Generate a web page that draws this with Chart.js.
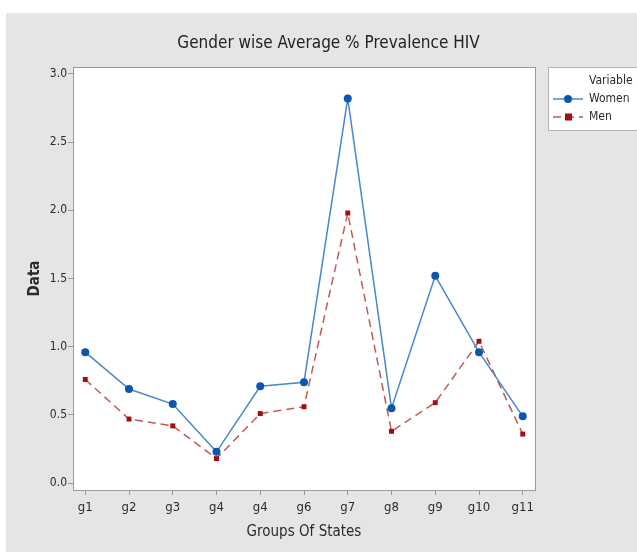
<!DOCTYPE html>
<html>
<head>
<meta charset="utf-8">
<title>Gender wise Average % Prevalence HIV</title>
<script src="https://cdn.jsdelivr.net/npm/chart.js@4.4.0/dist/chart.umd.min.js"></script>
<style>
  html, body { margin: 0; padding: 0; background: #ffffff; }
  #chart { display: block; }
</style>
</head>
<body>
<canvas id="chart" width="637" height="552"></canvas>
<script>
// Groups of states along the x axis (label "g4" appears twice)
const groups = ['g1', 'g2', 'g3', 'g4', 'g4', 'g6', 'g7', 'g8', 'g9', 'g10', 'g11'];

// Average % HIV prevalence per group
const women = [0.96, 0.69, 0.58, 0.23, 0.71, 0.74, 2.82, 0.55, 1.52, 0.96, 0.49];
const men = [0.76, 0.47, 0.42, 0.18, 0.51, 0.56, 1.98, 0.38, 0.59, 1.04, 0.36];

const yTicks = [0, 0.5, 1, 1.5, 2, 2.5, 3];

const FONT = "'Liberation Sans Narrow', 'DejaVu Sans Condensed', 'Liberation Sans', sans-serif";
const TEXT = '#2b2b2b';
const AXIS = '#9a9a9a';

const toPoints = values => values.map((v, i) => ({ x: i, y: v }));

// Gray panel behind everything, white plot area with a thin frame
const panelPlugin = {
  id: 'panel',
  beforeDraw(chart) {
    const { ctx, chartArea: a } = chart;
    ctx.save();
    ctx.fillStyle = '#ffffff';
    ctx.fillRect(0, 0, chart.width, chart.height);
    ctx.fillStyle = '#e5e5e5';
    ctx.fillRect(6, 13, chart.width - 6, chart.height - 13);
    ctx.fillStyle = '#ffffff';
    ctx.fillRect(a.left, a.top, a.right - a.left, a.bottom - a.top);
    ctx.restore();
  },
  afterDraw(chart) {
    const { ctx, chartArea: a } = chart;
    ctx.save();
    ctx.strokeStyle = AXIS;
    ctx.lineWidth = 1;
    ctx.strokeRect(Math.round(a.left) + 0.5, Math.round(a.top) + 0.5,
      Math.round(a.right - a.left), Math.round(a.bottom - a.top));
    ctx.restore();
  }
};

// Legend box on the right, styled after the datasets
const legendBoxPlugin = {
  id: 'legendBox',
  afterDraw(chart) {
    const { ctx } = chart;
    const x = 548, y = 67, w = 100, h = 63;
    ctx.save();
    ctx.fillStyle = '#ffffff';
    ctx.fillRect(x, y, w, h);
    ctx.strokeStyle = '#b4b4b4';
    ctx.strokeRect(x + 0.5, y + 0.5, w, h);

    ctx.fillStyle = TEXT;
    ctx.font = '12px ' + FONT;
    ctx.textBaseline = 'middle';
    ctx.fillText('Variable', 589, 81);

    chart.data.datasets.forEach((ds, i) => {
      const ly = 99 + i * 18;
      ctx.strokeStyle = ds.borderColor;
      ctx.lineWidth = ds.borderWidth;
      ctx.setLineDash(ds.borderDash || []);
      ctx.beginPath();
      ctx.moveTo(553, ly);
      ctx.lineTo(583, ly);
      ctx.stroke();
      ctx.setLineDash([]);
      ctx.fillStyle = ds.pointBackgroundColor;
      if (ds.pointStyle === 'rect') {
        ctx.fillRect(565, ly - 3.5, 7, 7);
      } else {
        ctx.beginPath();
        ctx.arc(568, ly, 4, 0, Math.PI * 2);
        ctx.fill();
      }
      ctx.fillStyle = TEXT;
      ctx.fillText(ds.label, 589, ly);
    });
    ctx.restore();
  }
};

new Chart(document.getElementById('chart'), {
  type: 'line',
  data: {
    datasets: [
      {
        label: 'Women',
        data: toPoints(women),
        borderColor: '#4a87cc',
        borderWidth: 1.5,
        pointStyle: 'circle',
        pointRadius: 4,
        pointBackgroundColor: '#0a57ad',
        pointBorderColor: '#0a57ad',
        pointBorderWidth: 0,
        tension: 0
      },
      {
        label: 'Men',
        data: toPoints(men),
        borderColor: '#c25a55',
        borderWidth: 1.5,
        borderDash: [8, 5],
        pointStyle: 'rect',
        pointRadius: 3.5,
        pointBackgroundColor: '#a50d0d',
        pointBorderColor: '#a50d0d',
        pointBorderWidth: 0,
        tension: 0
      }
    ]
  },
  options: {
    responsive: false,
    animation: false,
    devicePixelRatio: 1,
    layout: { padding: { left: 20, right: 0, top: 0, bottom: 0 } },
    plugins: {
      legend: { display: false },
      tooltip: { enabled: false },
      title: {
        display: true,
        text: 'Gender wise Average % Prevalence HIV',
        color: '#222222',
        font: { family: FONT, size: 17, weight: 'normal' },
        padding: { top: 33, bottom: 13.6 }
      }
    },
    scales: {
      x: {
        type: 'linear',
        min: -0.28,
        max: 10.28,
        afterFit: scale => { scale.height = 62; },
        afterBuildTicks: scale => {
          scale.ticks = groups.map((g, i) => ({ value: i }));
        },
        ticks: {
          autoSkip: false,
          maxRotation: 0,
          padding: 5,
          color: TEXT,
          font: { family: FONT, size: 13 },
          callback: value => groups[value]
        },
        grid: { drawOnChartArea: false, drawTicks: true, tickLength: 5, color: AXIS },
        border: { display: false },
        title: {
          display: true,
          text: 'Groups Of States',
          color: TEXT,
          font: { family: FONT, size: 15 },
          padding: { top: 0, bottom: 11 }
        }
      },
      y: {
        min: -0.05,
        max: 3.05,
        afterFit: scale => { scale.width = 53; },
        afterBuildTicks: scale => {
          scale.ticks = yTicks.map(v => ({ value: v }));
        },
        ticks: {
          padding: 1,
          color: TEXT,
          font: { family: FONT, size: 12 },
          callback: value => Number(value).toFixed(1)
        },
        grid: { drawOnChartArea: false, drawTicks: true, tickLength: 5, color: AXIS },
        border: { display: false },
        title: {
          display: true,
          text: 'Data',
          color: TEXT,
          font: { family: FONT, size: 15, weight: 'bold' },
          padding: { top: 6, bottom: 0 }
        }
      },
      // empty column on the right that holds the legend box
      side: {
        type: 'linear',
        position: 'right',
        afterFit: scale => { scale.width = 102; },
        ticks: { display: false },
        grid: { display: false },
        border: { display: false },
        title: { display: false }
      }
    }
  },
  plugins: [panelPlugin, legendBoxPlugin]
});
</script>
</body>
</html>
